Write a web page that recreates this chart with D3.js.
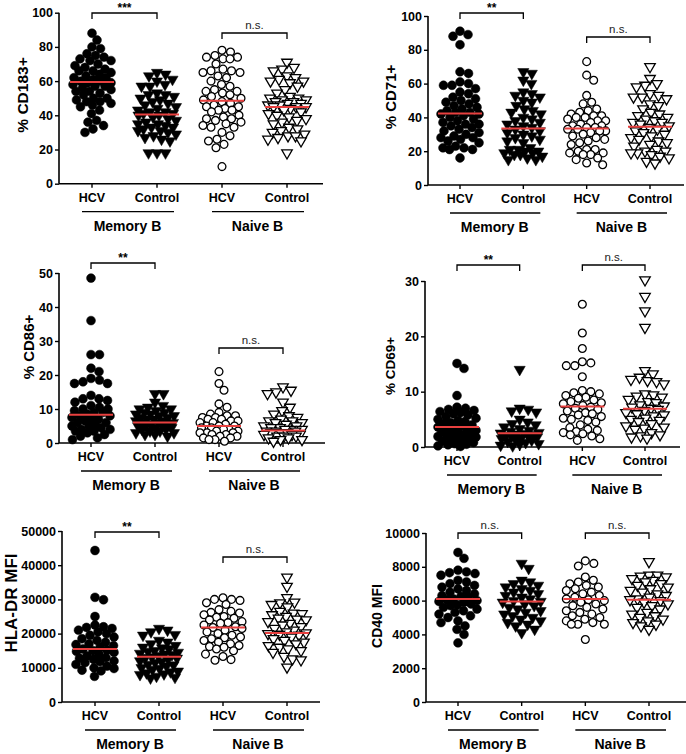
<!DOCTYPE html>
<html><head><meta charset="utf-8">
<script src="https://cdn.jsdelivr.net/npm/d3@7"></script>
<style>body{margin:0;background:#fff}svg{display:block}text{font-family:"Liberation Sans",Arial,sans-serif}</style>
</head><body><svg id="c" width="686" height="754"></svg>
<script>
const categories = ["HCV", "Control", "HCV", "Control"];
const subsets = ["Memory B", "Naive B"];
const yLabels = ["% CD183+", "% CD71+", "% CD86+", "% CD69+", "HLA-DR MFI", "CD40 MFI"];
const yMax = [100, 100, 50, 30, 50000, 10000];
const yStep = [20, 20, 10, 10, 10000, 2000];
const significance = [["***", "n.s."], ["**", "n.s."], ["**", "n.s."], ["**", "n.s."], ["**", "n.s."], ["n.s.", "n.s."]];

// values per group: [Memory HCV, Memory Control, Naive HCV, Naive Control]
const cd183 = [
  [88,84,80,79,76,75,74,73,72,72,70,69,68,67,66,66,65,64,63,62,62,61,60,60,59,59,58,57,57,56,55,54,54,53,52,50,50,49,48,48,47,46,45,43,41,37,36,34,32,30],
  [65,64,63,61,60,58,57,57,53,52,52,51,50,49,48,47,46,45,44,43,42,42,41,41,40,40,39,38,37,36,35,35,34,33,33,32,31,31,30,29,28,27,26,25,18,18,18],
  [78,77,75,74,74,73,73,70,67,66,66,65,65,63,62,60,58,57,55,54,54,53,52,51,50,49,48,47,46,45,45,44,43,43,42,40,39,38,38,37,36,35,34,33,33,30,28,26,25,23,21,10],
  [71,68,67,66,63,62,61,60,60,59,57,55,53,51,50,50,49,49,48,48,47,47,46,46,45,45,45,44,43,42,41,40,39,38,37,36,35,33,32,31,30,29,28,28,27,26,25,18]
];
const cd71 = [
  [91,89,88,83,67,66,61,60,59,59,57,55,54,52,51,50,49,48,47,46,45,44,43,43,42,42,41,40,39,38,37,36,36,35,34,33,32,31,30,29,28,28,27,26,25,23,22,22,21,21,16],
  [67,66,62,60,55,54,53,52,50,49,47,45,44,43,42,40,39,38,37,36,35,34,33,32,31,30,29,28,27,26,25,22,21,21,20,20,19,19,18,18,17,16,15,15],
  [73,65,62,53,49,48,45,44,43,42,41,41,40,40,39,38,38,37,36,35,35,34,34,33,33,32,32,31,30,29,28,27,26,25,24,21,21,20,19,19,18,18,16,15,13,12],
  [70,63,60,59,58,54,53,52,52,51,48,47,45,43,42,41,40,39,38,37,37,36,35,34,33,32,31,30,29,28,27,26,25,24,23,21,20,20,19,19,18,17,16,14,13]
];
const cd86 = [
  [48.5,36,26,26,22,21,19,18.5,18,17.5,17.5,14,13,13,12.5,12,11,10.5,10,10,9.5,9,9,8.5,8,8,7.5,7,7,6.5,6,6,5.5,5,5,4.5,4,4,3.5,3.5,3,2.5,2,1.5,1],
  [14.5,14.5,12,11,10.5,10,10,9.5,9,9,8.5,8.5,8,8,7.5,7.5,7,7,6.5,6.5,6,6,6,5.5,5.5,5,5,5,4.5,4.5,4,4,3.5,3.5,3,3,2.5,2.5,2],
  [21,17.5,15.5,11.5,10.5,9,8.5,8,8,7.5,7.5,7,7,6.5,6.5,6,6,5.5,5,5,5,4.5,4.5,4,4,3.5,3.5,3,3,3,2.5,2.5,2,2,1.5,1.5,1,1,0.5],
  [16.5,15.5,15,14.5,12,10.5,9.5,8.5,8,7.5,7,6.5,6.5,6,6,5.5,5,5,4.5,4.5,4,4,4,3.5,3.5,3.5,3,3,3,2.5,2.5,2.5,2,2,2,1.5,1.5,1,1,0.5]
];
const cd69 = [
  [15.1,14.2,9.3,7.2,7,6.8,6.6,6.4,6.2,6,5.8,5.5,5.2,5,4.8,4.6,4.4,4.2,4,3.8,3.6,3.5,3.4,3.2,3,2.8,2.6,2.5,2.4,2.2,2,1.9,1.8,1.6,1.5,1.4,1.2,1,0.8,0.6,0.5,0.4,0.2,0.1],
  [14,7,6.8,6.5,6.3,5,4.5,4.2,4,3.6,3.3,3,2.8,2.6,2.5,2.4,2.3,2.2,2.1,2,1.9,1.8,1.6,1.5,1.3,1.2,1,0.8,0.6,0.5,0.3,0.2],
  [25.8,20.6,17.8,15.4,15.2,14.7,14.7,12.7,10.2,10,9.8,9.6,9.3,9,8.8,8.5,8.2,8,7.8,7.5,7.2,7,6.8,6.5,6.2,6,5.8,5.5,5.2,5,4.8,4.5,4,3.5,3.2,3,2.8,2.6,2.4,2.2,2,1.5,1.2],
  [30.2,27.2,24.6,21.6,13.8,13.2,12.6,12.2,12,11.8,11.4,9.6,9.4,9.2,9,8.6,8.2,8,7.6,7.4,7.2,7,6.8,6.6,6.2,6,5.8,5.6,5.2,5,4.8,4.6,4.2,3.8,3.6,3.4,3.2,2.6,2.2,2,1.8,1.6]
];
const hladr = [
  [44300,30600,29900,25000,22500,22000,21800,21500,21000,20500,20000,19500,19000,18500,18000,17500,17000,16800,16500,16000,15500,15200,15000,14800,14500,14000,13500,13000,12800,12500,12000,11800,11500,11000,10500,10000,9800,9300,9100,7500],
  [21500,21000,20500,19700,19500,18000,17500,17000,16500,16000,15800,15500,15000,14800,14500,14200,14000,13800,13500,13200,13000,12800,12500,12000,11800,11500,11000,10800,10500,10000,9800,9500,9000,8800,8500,8200,8000,7500,7200,7000],
  [30500,30000,30000,29700,29000,28500,27000,26500,26200,26000,25500,25000,24800,24500,24000,23500,23200,23000,22500,22000,21800,21500,21000,20500,20000,19500,19000,18800,18500,18000,17500,17000,16500,16200,16000,15500,15000,14000,13300,12400,12200],
  [36500,33800,30500,29200,29000,28500,27800,26500,26000,25800,25500,25000,24500,24200,24000,23500,23000,22500,22000,21500,21000,20500,20200,20000,19800,19500,19000,18500,18000,17500,17000,16500,16000,15500,15000,14500,13300,12600,12300,10200]
];
const cd40 = [
  [8850,8500,7800,7700,7650,7600,7500,7200,7100,7000,6900,6800,6700,6600,6500,6400,6300,6250,6200,6100,6050,6000,5950,5900,5800,5750,5700,5600,5500,5400,5300,5200,5100,5000,4800,4700,4500,4300,4000,3500],
  [8200,7900,7200,7100,7000,6900,6800,6700,6600,6500,6400,6300,6200,6100,6000,5950,5900,5800,5700,5600,5500,5400,5300,5200,5100,5000,4900,4800,4700,4600,4500,4300,4100],
  [8350,8200,8050,7400,7200,7100,7000,6900,6800,6700,6600,6500,6400,6300,6200,6100,6050,6000,5900,5800,5700,5600,5500,5400,5300,5200,5100,5000,4900,4800,4700,4600,4600,4600,3700],
  [8300,7500,7500,7450,7400,7300,7200,7100,7000,6900,6800,6700,6600,6500,6400,6300,6200,6100,6050,6000,5900,5800,5700,5600,5500,5300,5200,5100,5000,4900,4800,4700,4600,4500,4300]
];
const medians = [
  [59.5, 40.5, 48.5, 44.8],
  [42.3, 33.5, 33.5, 34.5],
  [8.3, 6.0, 5.0, 3.7],
  [3.6, 2.5, 7.3, 6.9],
  [15500, 13200, 21800, 20200],
  [6100, 5950, 6100, 6050]
];
const panelData = [cd183, cd71, cd86, cd69, hladr, cd40];

// layout (pixels)
const layout = [
  {ax:59,  yTop:12.7, y0:183.7, x1:92,  x2:287, xEnd:323, br:[13,33],  lx:22,  ly:95,  lfs:15.5},
  {ax:428, yTop:16,   y0:185,   x1:460, x2:650, xEnd:684, br:[13,37],  lx:390, ly:97,  lfs:15},
  {ax:59,  yTop:273,  y0:443,   x1:91,  x2:283, xEnd:325, br:[263,348],lx:28,  ly:347, lfs:15},
  {ax:425, yTop:281,  y0:447,   x1:457, x2:645, xEnd:680, br:[265,265],lx:390, ly:366, lfs:13.5},
  {ax:62,  yTop:531,  y0:702,   x1:95,  x2:287, xEnd:320, br:[532,557],lx:11,  ly:603, lfs:17},
  {ax:426, yTop:533,  y0:702,   x1:458, x2:649, xEnd:686, br:[533,533],lx:377, ly:616, lfs:14}
];

const svg = d3.select("#c");
const RED = "#e8403f";

function swarm(vals, y, cx, diam, maxOff) {
  const pts = vals.map(v => ({v, py: y(v)}));
  pts.sort((a, b) => a.py - b.py);
  const placed = [];
  const cands = [];
  for (let o = 0; o <= maxOff; o += 0.5) { cands.push(o); if (o > 0) cands.push(-o); }
  for (const p of pts) {
    let best = 0, bestScore = -1;
    for (const o of cands) {
      let minD = Infinity;
      for (const q of placed) {
        const dy = q.py - p.py;
        if (Math.abs(dy) >= diam) continue;
        const dx = q.dx - o;
        const d = Math.sqrt(dx * dx + dy * dy);
        if (d < minD) minD = d;
      }
      if (minD >= diam) { best = o; bestScore = Infinity; break; }
      if (minD > bestScore + 0.01) { bestScore = minD; best = o; }
    }
    p.dx = best;
    placed.push(p);
  }
  return placed.map(p => ({v: p.v, x: cx + p.dx, y: p.py}));
}

const tri = d3.symbol().type(d3.symbolTriangle);

panelData.forEach((groupsData, pi) => {
  const L = layout[pi];
  const g = svg.append("g");
  const y = d3.scaleLinear().domain([0, yMax[pi]]).range([L.y0, L.yTop]);
  const x = d3.scalePoint().domain(d3.range(4)).range([L.x1, L.x2]);

  const yAxis = d3.axisLeft(y).tickValues(d3.range(0, yMax[pi] + 1, yStep[pi])).tickSize(4).tickSizeOuter(0).tickPadding(2).tickFormat(d3.format("d"));
  const ya = g.append("g").attr("transform", `translate(${L.ax},0)`).call(yAxis);
  ya.select(".domain").attr("stroke-width", 1.6).attr("d", `M0,${L.y0}V${L.yTop}`);
  ya.selectAll(".tick line").attr("stroke-width", 1.4);
  ya.selectAll(".tick text").attr("font-size", 12.5).attr("font-weight", "bold").attr("fill", "#000").style("font-family", "'Liberation Sans',Arial,sans-serif");

  g.append("line").attr("x1", L.ax).attr("x2", L.xEnd).attr("y1", L.y0).attr("y2", L.y0).attr("stroke", "#000").attr("stroke-width", 1.6);
  categories.forEach((c, i) => {
    g.append("line").attr("x1", x(i)).attr("x2", x(i)).attr("y1", L.y0).attr("y2", L.y0 + 4).attr("stroke", "#000").attr("stroke-width", 1.4);
    g.append("text").attr("x", x(i)).attr("y", L.y0 + 18).attr("text-anchor", "middle").attr("font-size", 12.5).attr("font-weight", "bold").text(c);
  });
  subsets.forEach((s, si) => {
    const a = x(si * 2), b = x(si * 2 + 1);
    g.append("line").attr("x1", a - 10).attr("x2", b + 17).attr("y1", L.y0 + 28).attr("y2", L.y0 + 28).attr("stroke", "#000").attr("stroke-width", 1.3);
    g.append("text").attr("x", (a + b) / 2 + 3).attr("y", L.y0 + 47).attr("text-anchor", "middle").attr("font-size", 14).attr("font-weight", "bold").text(s);
  });

  g.append("text").attr("transform", `translate(${L.lx},${L.ly}) rotate(-90)`).attr("text-anchor", "middle").attr("dominant-baseline", "central")
    .attr("font-size", L.lfs).attr("font-weight", "bold").text(yLabels[pi]);

  [0, 1].forEach(bi => {
    const a = x(bi * 2), b = x(bi * 2 + 1), by = L.br[bi];
    g.append("path").attr("d", `M${a},${by + 6}V${by}H${b}V${by + 6}`).attr("fill", "none").attr("stroke", "#000").attr("stroke-width", 1.3);
    const s = significance[pi][bi];
    const star = s.indexOf("*") >= 0;
    g.append("text").attr("x", (a + b) / 2).attr("y", star ? by - 1 : by - 4).attr("text-anchor", "middle")
      .attr("font-size", star ? 12 : 11.5).attr("font-weight", star ? "bold" : "normal").attr("fill", star ? "#000" : "#222").text(s);
  });

  groupsData.forEach((vals, gi) => {
    const pts = swarm(vals, y, x(gi), 8.4, 19);
    const filled = gi < 2;
    const isTri = gi % 2 === 1;
    const sel = g.append("g").selectAll("path").data(pts).join("path");
    if (isTri) {
      sel.attr("d", tri.size(filled ? 54 : 48)()).attr("transform", d => `translate(${d.x},${d.y}) rotate(180)`);
    } else {
      sel.attr("d", d3.symbol().type(d3.symbolCircle).size(filled ? 62 : 48)()).attr("transform", d => `translate(${d.x},${d.y})`);
    }
    sel.attr("fill", filled ? "#000" : "#fff").attr("stroke", "#000").attr("stroke-width", filled ? 0.5 : 1.3);
  });

  medians[pi].forEach((m, gi) => {
    g.append("line").attr("x1", x(gi) - 22).attr("x2", x(gi) + 22).attr("y1", y(m)).attr("y2", y(m)).attr("stroke", RED).attr("stroke-width", 2);
  });
});
</script></body></html>
